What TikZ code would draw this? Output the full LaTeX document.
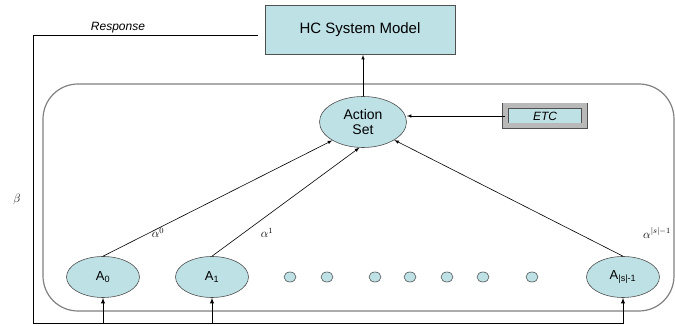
\documentclass[tikz,border=0pt]{standalone}
\usepackage{fontspec}
\setmainfont{Liberation Sans}
\usetikzlibrary{positioning,shapes.geometric,calc}
\definecolor{cellfill}{RGB}{190,225,230}
\definecolor{cellline}{RGB}{80,80,80}

\begin{document}
\begin{tikzpicture}[x=1pt,y=1pt,>=latex,line width=0.6pt]
    \tikzstyle{cell}=[ellipse,fill=cellfill,draw=cellline,inner sep=0pt]
    \tikzstyle{action}=[cell,minimum width=73pt,minimum height=41pt,font=\fontsize{13}{15}\selectfont]
    \tikzstyle{dot}=[cell,minimum width=12pt,minimum height=10pt]
    \tikzstyle{actionset}=[cell,minimum width=87pt,minimum height=51pt,align=center,font=\fontsize{14}{15}\selectfont]
    \tikzstyle{model}=[rectangle,fill=cellfill,draw=cellline,line width=0.8pt,minimum width=190pt,minimum height=49pt,font=\fontsize{15}{17}\selectfont]
    \tikzstyle{etc}=[rectangle,fill=cellfill,draw=cellline,double=gray!55,double distance=5pt,minimum width=79pt,minimum height=20pt,font=\fontsize{12}{14}\selectfont\itshape]
    \tikzstyle{annot}=[font=\fontsize{12}{14}\selectfont]

    \useasboundingbox (0,0) rectangle (675,326);

    % The automaton frame
    \draw[gray,line width=1.2pt,rounded corners=35pt] (43,15) rectangle (674,242);

    % Action set, model and ETC
    \node[actionset] (AS) at (363,204) {Action\\Set};
    \node[model] (HC) at (360,296) {HC System Model};
    \node[etc, right of=AS, node distance=182pt, yshift=6pt] (ETC) {ETC};

    % Draw the actions
    \node[action] (A-0) at (103,49) {A\textsubscript{0}};
    \node[action, right of=A-0, node distance=109pt] (A-1) {A\textsubscript{1}};
    \node[action] (A-n) at (623,49) {A\textsubscript{|s|-1}};
    \foreach \name / \x in {1/290,2/327,3/375,4/410,5/447,6/483,7/532}
        \node[dot] (d-\name) at (\x,49) {};

    % Connect the actions with the action set
    \draw[->] (A-0.north) -- (AS.211);
    \draw[->] (A-1.north) -- (AS.262);
    \draw[->] (A-n.north) -- (AS.330);
    \draw[->] (AS.north) -- (HC.south -| AS.north);
    \draw[->] (ETC.west) -- (AS.east |- ETC.west);

    % Response fed back to every action
    \coordinate (resp) at ($(HC.west)+(-7pt,-5pt)$);
    \coordinate (fb) at (33,3);
    \draw[->,line width=0.9pt] (resp) -| (fb) -| (A-n.south);
    \foreach \source in {0,1}
        \draw[->,line width=0.9pt] (fb -| A-\source.south) -- (A-\source.south);

    % Annotate
    \node[annot] (r) at (118,298) {\itshape Response};
    \node[annot] (b) at (17,126) {$\beta$};
    \node[annot] (a-0) at (158,93) {$\alpha^{0}$};
    \node[annot] (a-1) at (267,93) {$\alpha^{1}$};
    \node[annot] (a-n) at (657,93) {$\alpha^{|s|-1}$};
\end{tikzpicture}
\end{document}
